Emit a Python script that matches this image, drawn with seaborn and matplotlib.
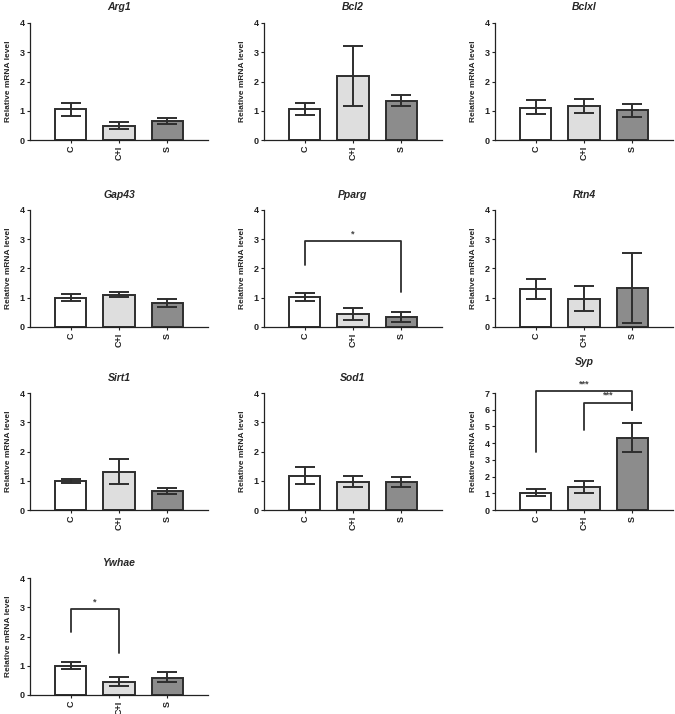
import matplotlib
matplotlib.use("Agg")
import matplotlib.pyplot as plt
import numpy as np
import pandas as pd
import seaborn as sns

groups = ["C", "C+I", "S"]
genes = ["Arg1", "Bcl2", "Bclxl", "Gap43", "Pparg", "Rtn4", "Sirt1", "Sod1", "Syp", "Ywhae"]

# bar heights (mean) and error bar ends
means = {
    "Arg1": [1.05, 0.47, 0.64],
    "Bcl2": [1.05, 2.18, 1.33],
    "Bclxl": [1.10, 1.16, 1.01],
    "Gap43": [1.00, 1.09, 0.81],
    "Pparg": [1.01, 0.44, 0.34],
    "Rtn4": [1.29, 0.96, 1.33],
    "Sirt1": [0.98, 1.31, 0.64],
    "Sod1": [1.17, 0.96, 0.96],
    "Syp": [1.03, 1.37, 4.30],
    "Ywhae": [1.00, 0.44, 0.59],
}
err_low = {
    "Arg1": [0.83, 0.37, 0.55],
    "Bcl2": [0.85, 1.17, 1.15],
    "Bclxl": [0.88, 0.93, 0.80],
    "Gap43": [0.90, 1.02, 0.70],
    "Pparg": [0.88, 0.23, 0.17],
    "Rtn4": [0.95, 0.53, 0.13],
    "Sirt1": [0.92, 0.90, 0.54],
    "Sod1": [0.88, 0.77, 0.80],
    "Syp": [0.85, 1.02, 3.45],
    "Ywhae": [0.90, 0.30, 0.43],
}
err_high = {
    "Arg1": [1.28, 0.60, 0.74],
    "Bcl2": [1.28, 3.20, 1.53],
    "Bclxl": [1.36, 1.40, 1.24],
    "Gap43": [1.12, 1.18, 0.96],
    "Pparg": [1.15, 0.66, 0.51],
    "Rtn4": [1.65, 1.41, 2.54],
    "Sirt1": [1.06, 1.74, 0.76],
    "Sod1": [1.48, 1.17, 1.14],
    "Syp": [1.25, 1.75, 5.20],
    "Ywhae": [1.12, 0.60, 0.77],
}
y_max = {"Syp": 7}

# significance brackets: (left group, right group, top, left leg end, right leg end, stars)
brackets = {
    "Pparg": [("C", "S", 2.93, 2.13, 1.21, "*")],
    "Ywhae": [("C", "C+I", 2.93, 2.15, 1.42, "*")],
    "Syp": [("C", "S", 7.10, 3.50, 5.96, "***"),
            ("C+I", "S", 6.41, 4.79, 5.96, "***")],
}

bar_colors = ["#ffffff", "#dedede", "#8c8c8c"]
edge = "#2e2e2e"

rows = []
for g in genes:
    for i, grp in enumerate(groups):
        rows.append({"gene": g, "group": grp, "mean": means[g][i],
                     "lo": err_low[g][i], "hi": err_high[g][i]})
df = pd.DataFrame(rows)

sns.set_theme(style="ticks")
plt.rcParams["font.family"] = ["Liberation Sans", "DejaVu Sans"]
plt.rcParams["font.weight"] = "bold"

W, H = 675, 714
fig = plt.figure(figsize=(W / 100, H / 100), dpi=100)

col_left = [30, 264, 495]
row_top = [23, 210, 393, 578]
ax_w, ax_h = 178, 117

for k, g in enumerate(genes):
    r, c = divmod(k, 3)
    left, top = col_left[c], row_top[r]
    ax = fig.add_axes([left / W, 1 - (top + ax_h) / H, ax_w / W, ax_h / H])
    sub = df[df["gene"] == g]
    sns.barplot(data=sub, x="group", y="mean", hue="group", order=groups,
                hue_order=groups, palette=bar_colors, width=0.65,
                edgecolor=edge, linewidth=1.4, errorbar=None, legend=False,
                ax=ax, zorder=2)
    m = sub["mean"].to_numpy()
    yerr = [m - sub["lo"].to_numpy(), sub["hi"].to_numpy() - m]
    ax.errorbar(np.arange(len(groups)), m, yerr=yerr, fmt="none",
                ecolor=edge, elinewidth=1.4, capsize=7, capthick=1.4, zorder=3)

    top_val = y_max.get(g, 4)
    ax.set_ylim(0, top_val)
    ax.set_yticks(range(0, top_val + 1))
    ax.set_xlim(-0.84, 2.84)

    for (a, b, yt, ya, yb, txt) in brackets.get(g, []):
        xa, xb = groups.index(a), groups.index(b)
        ax.plot([xa, xa, xb, xb], [ya, yt, yt, yb], color=edge, lw=1.3,
                clip_on=False, zorder=4)
        ax.text((xa + xb) / 2, yt + top_val * 0.025, txt, ha="center",
                va="bottom", fontsize=6.5, fontweight="bold", color="#444444")

    ax.set_xlabel("")
    ax.set_ylabel("Relative mRNA level", fontsize=6, fontweight="bold",
                  labelpad=5)
    pad = 20 if g == "Syp" else 9
    ax.set_title(g, fontsize=7.5, fontweight="bold", style="italic", pad=pad)
    ax.tick_params(axis="y", labelsize=6.5, length=2.5, width=0.8, pad=1.5,
                   colors="#222222")
    ax.tick_params(axis="x", labelsize=6.5, length=2, width=0.8, pad=2,
                   rotation=90, colors="#222222")
    for t in ax.get_xticklabels() + ax.get_yticklabels():
        t.set_fontweight("bold")
    sns.despine(ax=ax)
    for s in ["left", "bottom"]:
        ax.spines[s].set_linewidth(0.9)
        ax.spines[s].set_color("#222222")

fig.savefig("out.png", dpi=100, facecolor="white")
